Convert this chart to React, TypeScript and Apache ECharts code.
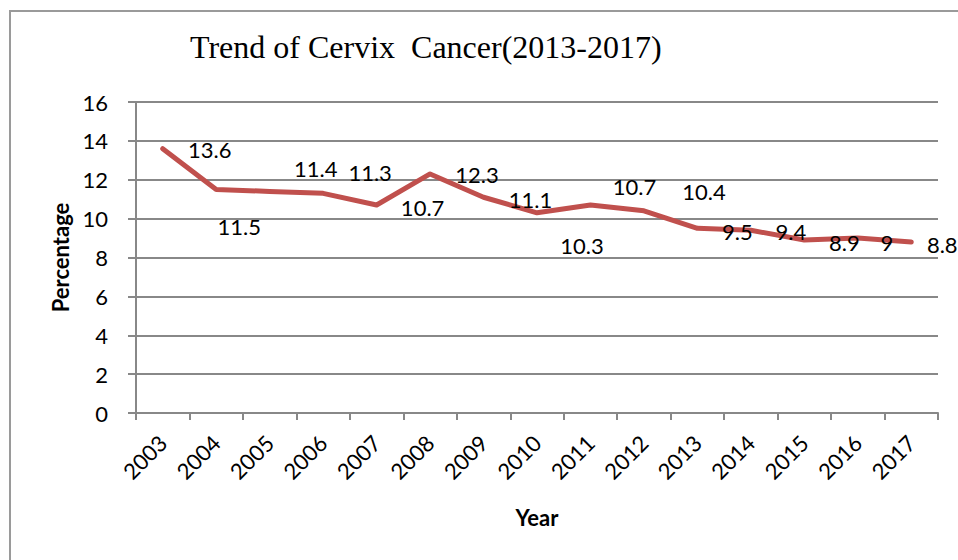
import React, { useEffect, useRef } from "react";
import * as echarts from "echarts";

const years = ["2003", "2004", "2005", "2006", "2007", "2008", "2009", "2010", "2011", "2012", "2013", "2014", "2015", "2016", "2017"];
const percentages = [13.6, 11.5, 11.4, 11.3, 10.7, 12.3, 11.1, 10.3, 10.7, 10.4, 9.5, 9.4, 8.9, 9, 8.8];
const yTicks = { min: 0, max: 16, interval: 2 };
const titleText = "Trend of Cervix  Cancer(2013-2017)";

// label offsets (px) from each point to its label centre, as placed in the original
const labelOffsets = [
  [47, 1], [23, 37], [46, -23], [47, -21], [46, 2], [47, 1], [47, 2], [45, 33],
  [44, -19], [60, -19], [40, 3], [40, 1], [40, 2], [29, 4], [31, 3],
];

const FONT = "Lato";
const GRID_COLOR = "#888888";

export default function App() {
  const ref = useRef<HTMLDivElement>(null);
  useEffect(() => {
    if (!ref.current) return;
    const chart = echarts.init(ref.current, undefined, { renderer: "svg" });
    chart.setOption({
      animation: false,
      backgroundColor: "#ffffff",
      title: {
        text: titleText,
        left: 185,
        top: 26,
        textStyle: { fontFamily: "Liberation Serif", fontSize: 32, fontWeight: "normal", color: "#000" },
      },
      graphic: [
        {
          type: "rect",
          shape: { x: 10, y: 11, width: 980, height: 600 },
          style: { fill: "none", stroke: "#9a9a9a", lineWidth: 2 },
          silent: true,
        },
      ],
      grid: { left: 136, right: 20, top: 102, bottom: 147 },
      xAxis: {
        type: "category",
        data: years,
        boundaryGap: true,
        axisLine: { lineStyle: { color: GRID_COLOR, width: 2 } },
        axisTick: { show: true, length: 7, alignWithLabel: false, lineStyle: { color: GRID_COLOR, width: 2 } },
        axisLabel: { interval: 0, rotate: 45, margin: 26, fontFamily: FONT, fontSize: 22, color: "#000" },
        name: "Year",
        nameLocation: "middle",
        nameGap: 93,
        nameTextStyle: { fontFamily: FONT, fontSize: 22, fontWeight: "bold", color: "#000" },
      },
      yAxis: {
        type: "value",
        min: yTicks.min,
        max: yTicks.max,
        interval: yTicks.interval,
        axisLine: { show: true, lineStyle: { color: GRID_COLOR, width: 2 } },
        axisTick: { show: true, length: 8, lineStyle: { color: GRID_COLOR, width: 2 } },
        splitLine: { show: true, lineStyle: { color: GRID_COLOR, width: 2 } },
        axisLabel: { margin: 28, fontFamily: FONT, fontSize: 22, color: "#000" },
        name: "Percentage",
        nameLocation: "middle",
        nameRotate: 90,
        nameGap: 63,
        nameTextStyle: { fontFamily: FONT, fontSize: 22, fontWeight: "bold", color: "#000" },
      },
      series: [
        {
          type: "line",
          data: percentages.map((v, i) => ({
            value: v,
            label: { offset: labelOffsets[i] },
          })),
          symbol: "circle",
          symbolSize: 1,
          itemStyle: { color: "rgba(0,0,0,0)" },
          lineStyle: { color: "#C0504D", width: 5, cap: "round", join: "round" },
          label: {
            show: true,
            position: "inside",
            fontFamily: FONT,
            fontSize: 22,
            color: "#000",
          },
        },
      ],
    });
    return () => chart.dispose();
  }, []);
  return <div ref={ref} style={{ position: "fixed", left: 0, top: 0, width: 958, height: 560 }} />;
}
